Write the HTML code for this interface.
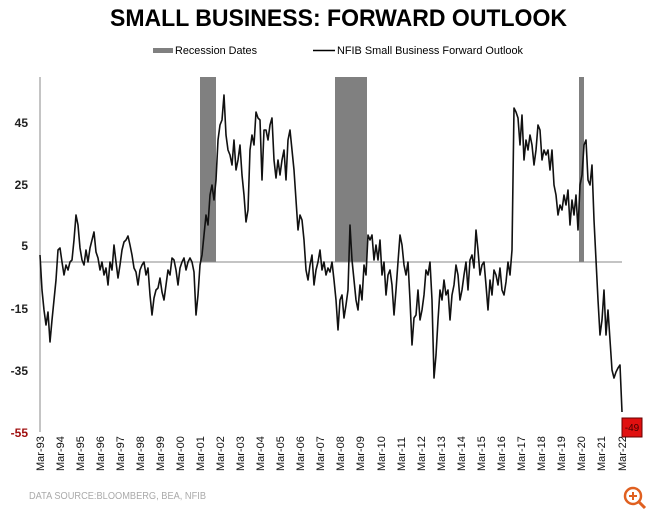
<!DOCTYPE html><html><head><style>body{margin:0;background:#fff}</style></head><body>
<svg width="650" height="512" xmlns="http://www.w3.org/2000/svg" font-family="Liberation Sans, sans-serif">
<text x="110" y="26" font-size="24" font-weight="bold" textLength="457" lengthAdjust="spacingAndGlyphs">SMALL BUSINESS: FORWARD OUTLOOK</text>
<rect x="153" y="48" width="20" height="5" fill="#808080"/>
<text x="175" y="54" font-size="11" textLength="82" lengthAdjust="spacingAndGlyphs">Recession Dates</text>
<line x1="313" y1="50.5" x2="335" y2="50.5" stroke="#000" stroke-width="1.5"/>
<text x="337" y="54" font-size="11" textLength="186" lengthAdjust="spacingAndGlyphs">NFIB Small Business Forward Outlook</text>
<rect x="200" y="77" width="16" height="185" fill="#808080"/>
<rect x="335" y="77" width="32" height="185" fill="#808080"/>
<rect x="579" y="77" width="5" height="185" fill="#808080"/>
<line x1="40" y1="77" x2="40" y2="432" stroke="#888" stroke-width="1"/>
<line x1="40" y1="262" x2="622" y2="262" stroke="#888" stroke-width="1"/>
<g font-size="12" font-weight="bold" fill="#222" text-anchor="end">
<text x="28" y="127">45</text><text x="28" y="189">25</text><text x="28" y="250">5</text>
<text x="28" y="313">-15</text><text x="28" y="375">-35</text><text x="28" y="437" fill="#a01010">-55</text>
</g>
<polyline fill="none" stroke="#111" stroke-width="1.6" stroke-linejoin="round" points="40,255 42,290 44,310 46,325 48,312 50,342 52,320 54,300 56,280 58,250 60,248 62,262 64,275 66,265 68,270 70,262 72,260 74,240 76,215 78,225 80,248 82,260 84,265 86,250 88,262 90,248 92,240 94,232 96,252 98,258 100,270 102,262 104,275 106,268 108,285 110,262 112,270 114,245 116,262 118,278 120,265 122,250 124,242 126,240 128,236 130,245 132,255 134,268 136,272 138,285 140,270 142,265 144,262 146,275 148,268 150,295 152,315 154,298 156,290 158,288 160,278 162,292 164,300 166,285 168,270 170,275 172,258 174,260 176,270 178,285 180,268 182,262 184,258 186,270 188,262 190,258 192,262 194,272 196,315 198,295 200,265 202,255 204,235 206,215 208,225 210,195 212,185 214,200 216,180 218,140 220,125 222,120 224,95 226,135 228,150 230,155 232,165 234,140 236,170 238,160 240,145 242,175 244,195 246,222 248,210 250,150 252,135 254,145 256,112 258,118 260,120 262,180 264,130 266,130 268,140 270,125 272,118 274,160 276,178 278,160 280,175 282,160 284,150 286,180 288,140 290,130 292,150 294,170 296,200 298,230 300,215 302,220 304,240 306,270 308,280 310,265 312,255 314,285 316,270 318,262 320,250 322,270 324,262 326,275 328,268 330,272 332,262 334,280 336,300 338,330 340,300 342,295 344,318 346,305 348,290 350,225 352,260 354,280 356,300 358,310 360,285 362,300 364,265 366,275 368,235 370,240 372,235 374,260 376,245 378,260 380,240 382,275 384,262 386,295 388,275 390,270 392,285 394,315 396,290 398,262 400,235 402,245 404,265 406,275 408,262 410,300 412,345 414,318 416,315 418,290 420,320 422,310 424,295 426,270 428,275 430,262 432,300 434,378 436,355 438,320 440,290 442,300 444,280 446,295 448,290 450,320 452,295 454,285 456,265 458,275 460,300 462,290 464,275 466,262 468,290 470,260 472,255 474,268 476,230 478,250 480,275 482,265 484,262 486,285 488,310 490,280 492,295 494,270 496,275 498,285 500,268 502,290 504,295 506,282 508,262 510,275 512,250 514,108 516,112 518,118 520,145 522,115 524,160 526,140 528,150 530,135 532,145 534,165 536,150 538,125 540,130 542,160 544,150 546,155 548,150 550,170 552,150 554,185 556,195 558,215 560,205 562,210 564,195 566,205 568,190 570,225 572,200 574,215 576,195 578,230 580,185 582,175 584,145 586,140 588,180 590,185 592,165 594,220 596,260 598,300 600,335 602,320 604,290 606,335 608,310 610,340 612,370 614,378 616,372 618,368 620,365 622,412"/>
<rect x="622" y="418" width="20" height="19" fill="#e01010" stroke="#600" stroke-width="1"/>
<text x="632" y="431" font-size="10" fill="#400" text-anchor="middle">-49</text>
<g font-size="11" fill="#111">
<text transform="translate(44,471) rotate(-90)">Mar-93</text>
<text transform="translate(64,471) rotate(-90)">Mar-94</text>
<text transform="translate(84,471) rotate(-90)">Mar-95</text>
<text transform="translate(104,471) rotate(-90)">Mar-96</text>
<text transform="translate(124,471) rotate(-90)">Mar-97</text>
<text transform="translate(144,471) rotate(-90)">Mar-98</text>
<text transform="translate(164,471) rotate(-90)">Mar-99</text>
<text transform="translate(184,471) rotate(-90)">Mar-00</text>
<text transform="translate(204,471) rotate(-90)">Mar-01</text>
<text transform="translate(224,471) rotate(-90)">Mar-02</text>
<text transform="translate(244,471) rotate(-90)">Mar-03</text>
<text transform="translate(264,471) rotate(-90)">Mar-04</text>
<text transform="translate(284,471) rotate(-90)">Mar-05</text>
<text transform="translate(304,471) rotate(-90)">Mar-06</text>
<text transform="translate(324,471) rotate(-90)">Mar-07</text>
<text transform="translate(344,471) rotate(-90)">Mar-08</text>
<text transform="translate(364,471) rotate(-90)">Mar-09</text>
<text transform="translate(385,471) rotate(-90)">Mar-10</text>
<text transform="translate(405,471) rotate(-90)">Mar-11</text>
<text transform="translate(425,471) rotate(-90)">Mar-12</text>
<text transform="translate(445,471) rotate(-90)">Mar-13</text>
<text transform="translate(465,471) rotate(-90)">Mar-14</text>
<text transform="translate(485,471) rotate(-90)">Mar-15</text>
<text transform="translate(505,471) rotate(-90)">Mar-16</text>
<text transform="translate(525,471) rotate(-90)">Mar-17</text>
<text transform="translate(545,471) rotate(-90)">Mar-18</text>
<text transform="translate(565,471) rotate(-90)">Mar-19</text>
<text transform="translate(585,471) rotate(-90)">Mar-20</text>
<text transform="translate(605,471) rotate(-90)">Mar-21</text>
<text transform="translate(626,471) rotate(-90)">Mar-22</text>
</g>
<text x="29" y="499" font-size="10" fill="#aaa" textLength="177" lengthAdjust="spacingAndGlyphs">DATA SOURCE:BLOOMBERG, BEA, NFIB</text>
<circle cx="633" cy="496" r="8" fill="none" stroke="#e06020" stroke-width="2.5"/>
<line x1="639" y1="502" x2="645" y2="508" stroke="#e06020" stroke-width="3"/>
<path d="M629 496h8M633 492v8" stroke="#e06020" stroke-width="2"/>
</svg>
</body></html>
